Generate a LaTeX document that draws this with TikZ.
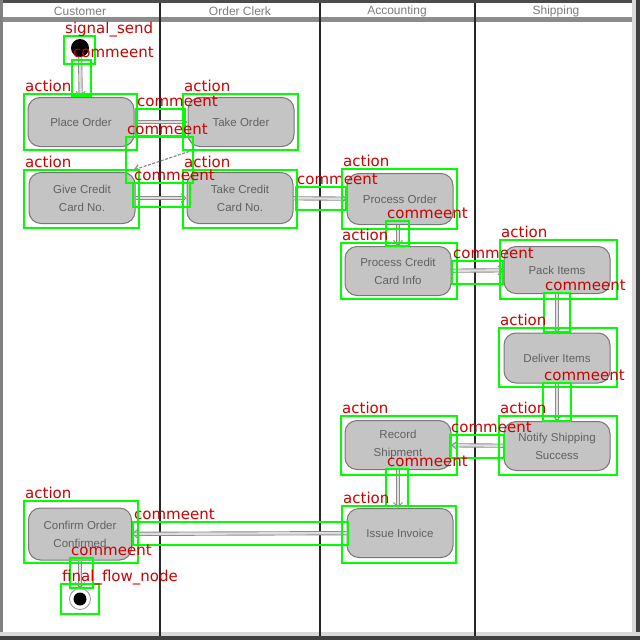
\documentclass[tikz,border=0pt]{standalone}
\usepackage{fontspec}
\setmainfont{Liberation Sans}
\newfontfamily\annfont{DejaVu Sans}
\usetikzlibrary{arrows.meta}
\definecolor{anngreen}{RGB}{0,255,0}
\definecolor{annred}{RGB}{205,0,0}
\definecolor{nodefill}{RGB}{196,196,196}
\definecolor{nodeline}{RGB}{120,120,120}
\definecolor{flowline}{RGB}{140,140,140}
\definecolor{flowfill}{RGB}{222,222,222}
\definecolor{headtext}{RGB}{125,125,125}
\newcommand\annbox[6]{%
  \draw[annline] (#2,#3) rectangle (#4,#5);
  \node[annlab] (#1) at (#2+1,#3-3) {#6};
}
\begin{document}
\begin{tikzpicture}[x=1pt,y=-1pt,
  act/.style={draw=nodeline, fill=nodefill, rounded corners=12pt, line width=1pt,
    minimum width=106pt, minimum height=49pt, inner sep=0pt, align=center,
    font=\fontsize{11.5}{18}\selectfont, text=black!62},
  flow/.style={draw=flowline, double=flowfill, double distance=2.4pt, line width=0.9pt,
    -{Straight Barb[length=5pt,width=9pt]}},
  diag/.style={draw=flowline, line width=1.2pt, dash pattern=on 3pt off 1.5pt,
    -{Straight Barb[length=5pt,width=7pt]}},
  lane/.style={draw=black!85, line width=2pt},
  lanehead/.style={font=\fontsize{12}{12}\selectfont, text=headtext},
  annline/.style={draw=anngreen, line width=2.5pt},
  annlab/.style={anchor=base west, inner sep=0pt, text=annred,
    font=\annfont\fontsize{15}{15}\selectfont}]
\useasboundingbox (0,0) rectangle (640,640);
% frame
\fill[white] (0,0) rectangle (640,640);
\fill[black!70] (0,0) rectangle (640,3);
\fill[black!50] (0,0) rectangle (3,640);
\fill[black!15] (632,0) rectangle (636,640);
\fill[black!75] (636,0) rectangle (640,640);
\fill[black!15] (0,632) rectangle (640,636);
\fill[black!75] (0,636) rectangle (640,640);
\fill[black!45] (3,17) rectangle (632,22);
% lanes
\draw[lane] (160,3) -- (160,636);
\draw[lane] (320,3) -- (320,636);
\draw[lane] (475,3) -- (475,636);
\node[lanehead] (h1) at (80,11) {Customer};
\node[lanehead] (h2) at (240,11) {Order Clerk};
\node[lanehead] (h3) at (397,11) {Accounting};
\node[lanehead] (h4) at (556,11) {Shipping};
% nodes
\node[circle, fill=black, minimum size=18pt, inner sep=0pt] (init) at (80,48) {};
\node[act] (place) at (81,122) {Place Order};
\node[act] (take) at (241,122) {Take Order};
\node[act, minimum height=51pt] (give) at (82,198) {Give Credit\\Card No.};
\node[act, minimum height=51pt] (takecc) at (240,198) {Take Credit\\Card No.};
\node[act, minimum height=51pt] (proc) at (400,199) {Process Order};
\node[act] (proccc) at (398,271) {Process Credit\\Card Info};
\node[act, minimum height=47pt] (pack) at (557,270) {Pack Items};
\node[act, minimum height=50pt] (deliver) at (557,358) {Deliver Items};
\node[act] (notify) at (557,446) {Notify Shipping\\Success};
\node[act] (record) at (398,445) {Record\\Shipment};
\node[act] (issue) at (400,533) {Issue Invoice};
\node[act, minimum width=103pt, minimum height=52pt] (confirm) at (80,534) {Confirm Order\\Confirmed};
\node[circle, draw=black!40, fill=white, line width=0.8pt, minimum size=21pt, inner sep=0pt] (final) at (80,599) {};
\node[circle, fill=black, minimum size=13pt, inner sep=0pt] (finalin) at (80,599) {};
% flows
\draw[flow] (init) -- (place);
\draw[flow] (place) -- (take);
\draw[diag] ([shift={(6pt,-3pt)}]take.south west) -- ([shift={(-2pt,2pt)}]give.north east);
\draw[flow] (give) -- (takecc);
\draw[flow] (takecc) -- (proc);
\draw[flow] (proc.south -| proccc) -- (proccc);
\draw[flow] (proccc) -- (pack);
\draw[flow] (pack) -- (deliver);
\draw[flow] (deliver) -- (notify);
\draw[flow] (notify) -- (record);
\draw[flow] (record) -- (record.south |- issue.north);
\draw[flow] (issue) -- (confirm);
\draw[flow] (confirm) -- (final);
% annotations
\annbox{a1}{64}{36}{95}{64}{signal\_send}
\annbox{a2}{72}{60}{91}{96}{commeent}
\annbox{a3}{24}{94}{137}{150}{action}
\annbox{a4}{183}{94}{298}{150}{action}
\annbox{a5}{136}{109}{185}{136}{commeent}
\annbox{a6}{126}{137}{193}{183}{commeent}
\annbox{a7}{24}{170}{139}{228}{action}
\annbox{a8}{183}{170}{297}{228}{action}
\annbox{a9}{133}{183}{190}{207}{commeent}
\annbox{a10}{296}{187}{346}{210}{commeent}
\annbox{a11}{342}{169}{457}{229}{action}
\annbox{a12}{386}{221}{409}{246}{commeent}
\annbox{a13}{341}{243}{457}{299}{action}
\annbox{a14}{452}{261}{503}{284}{commeent}
\annbox{a15}{500}{240}{617}{299}{action}
\annbox{a16}{544}{293}{570}{332}{commeent}
\annbox{a17}{499}{328}{617}{387}{action}
\annbox{a18}{543}{383}{571}{421}{commeent}
\annbox{a19}{499}{416}{617}{475}{action}
\annbox{a20}{341}{416}{457}{475}{action}
\annbox{a21}{450}{435}{504}{458}{commeent}
\annbox{a22}{386}{469}{408}{506}{commeent}
\annbox{a23}{342}{506}{456}{563}{action}
\annbox{a24}{133}{522}{348}{545}{commeent}
\annbox{a25}{24}{501}{138}{563}{action}
\annbox{a26}{70}{558}{93}{588}{commeent}
\annbox{a27}{61}{584}{99}{614}{final\_flow\_node}
\end{tikzpicture}
\end{document}
